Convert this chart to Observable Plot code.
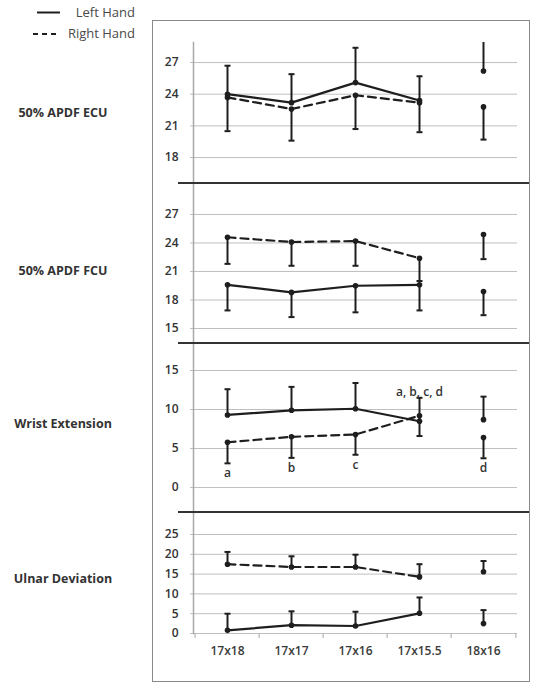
<!DOCTYPE html>
<html><head><meta charset="utf-8">
<script src="https://cdn.jsdelivr.net/npm/d3@7"></script>
<script src="https://cdn.jsdelivr.net/npm/@observablehq/plot@0.6"></script>
<style>
body{margin:0;background:#fff;}
#root{position:relative;width:534px;height:683px;overflow:hidden;font-family:"Open Sans",sans-serif;background:#fff;}
.abs{position:absolute;}
.rowlab{position:absolute;font-weight:700;font-size:12.5px;color:#333;white-space:nowrap;transform:translate(-50%,-50%);}
.leg{position:absolute;font-size:13px;font-weight:500;color:#4a4a4a;white-space:nowrap;transform:translate(-100%,-50%);}
</style></head><body><div id="root"></div>
<script>
// ---------------- data ----------------
const categories = ["17x18", "17x17", "17x16", "17x15.5", "18x16"];
const connected = [true, true, true, true, false];
const panelNames = ["50% APDF ECU", "50% APDF FCU", "Wrist Extension", "Ulnar Deviation"];
const legendNames = ["Left Hand", "Right Hand"];

// 50% APDF ECU
const ecuLeft = [24.0, 23.2, 25.1, 23.4, 26.2];
const ecuLeftSD = [2.7, 2.7, 3.3, 2.3, 3.0];
const ecuRight = [23.7, 22.6, 23.9, 23.2, 22.8];
const ecuRightSD = [3.2, 3.0, 3.2, 2.8, 3.1];
const ecuTicks = [18, 21, 24, 27];

// 50% APDF FCU
const fcuLeft = [19.6, 18.8, 19.5, 19.6, 18.9];
const fcuLeftSD = [2.7, 2.6, 2.8, 2.7, 2.5];
const fcuRight = [24.6, 24.1, 24.2, 22.4, 24.9];
const fcuRightSD = [2.8, 2.5, 2.6, 2.4, 2.6];
const fcuTicks = [15, 18, 21, 24, 27];

// Wrist Extension
const wristLeft = [9.3, 9.9, 10.1, 8.5, 8.7];
const wristLeftSD = [3.3, 3.0, 3.3, 3.0, 2.95];
const wristRight = [5.8, 6.5, 6.8, 9.2, 6.4];
const wristRightSD = [2.7, 2.7, 2.6, 2.6, 2.65];
const wristTicks = [0, 5, 10, 15];
const wristLetters = ["a", "b", "c", "a, b, c, d", "d"];
const wristLetterSide = ["below", "below", "below", "above", "below"];

// Ulnar Deviation
const ulnarLeft = [0.8, 2.1, 1.9, 5.1, 2.5];
const ulnarLeftSD = [4.2, 3.5, 3.6, 4.0, 3.4];
const ulnarRight = [17.5, 16.8, 16.8, 14.3, 15.6];
const ulnarRightSD = [3.1, 2.7, 3.1, 3.2, 2.7];
const ulnarTicks = [0, 5, 10, 15, 20, 25];

// direction of the one-sided SD bars (+1 up, -1 down) for [left, right]
const ecuDir = [1, -1], fcuDir = [-1, -1], wristDir = [1, -1], ulnarDir = [1, 1];

// ---------------- layout ----------------
const W = 534, axisLeft = 193, plotRight = 517;
const panelTop = [42, 183, 343, 512];
const panelBottom = [183, 343, 512, 633];
const yDomains = [[15.54, 28.9], [13.42, 30.26], [-3.2, 18.46], [0, 30.56]];
const rowLabelY = [112, 270, 423, 578];
const INK = "#1e1e1e", GRID = "#bfbfbf";

const panels = [
  {left: ecuLeft, leftSD: ecuLeftSD, right: ecuRight, rightSD: ecuRightSD, dir: ecuDir, ticks: ecuTicks},
  {left: fcuLeft, leftSD: fcuLeftSD, right: fcuRight, rightSD: fcuRightSD, dir: fcuDir, ticks: fcuTicks},
  {left: wristLeft, leftSD: wristLeftSD, right: wristRight, rightSD: wristRightSD, dir: wristDir, ticks: wristTicks},
  {left: ulnarLeft, leftSD: ulnarLeftSD, right: ulnarRight, rightSD: ulnarRightSD, dir: ulnarDir, ticks: ulnarTicks}
];

const capSymbol = {draw(ctx, size) { const r = Math.sqrt(size / Math.PI); ctx.moveTo(-r, 0); ctx.lineTo(r, 0); }};
const root = document.getElementById("root");

panels.forEach((p, k) => {
  const rows = [];
  categories.forEach((c, i) => {
    rows.push({cat: c, hand: "Left", v: p.left[i], end: p.left[i] + p.dir[0] * p.leftSD[i], con: connected[i]});
    rows.push({cat: c, hand: "Right", v: p.right[i], end: p.right[i] + p.dir[1] * p.rightSD[i], con: connected[i]});
  });
  const isLast = k === panels.length - 1;
  const mb = isLast ? 32 : 0;
  const h = panelBottom[k] - panelTop[k] + mb;
  const bw = (plotRight - axisLeft) / categories.length;
  const marks = [
    Plot.gridY({ticks: p.ticks, stroke: GRID, strokeOpacity: 1, strokeWidth: 1}),
    Plot.axisY({ticks: p.ticks, tickSize: 3, tickPadding: 12, stroke: GRID, fill: "#333", label: null}),
    Plot.frame({anchor: "left", stroke: "#a8a8a8", strokeWidth: 1.5}),
    Plot.line(rows.filter(d => d.con && d.hand === "Left"), {x: "cat", y: "v", stroke: INK, strokeWidth: 2.2}),
    Plot.line(rows.filter(d => d.con && d.hand === "Right"), {x: "cat", y: "v", stroke: INK, strokeWidth: 2.2, strokeDasharray: "8,5"}),
    Plot.ruleX(rows, {x: "cat", y1: "v", y2: "end", stroke: INK, strokeWidth: 2, clip: true}),
    Plot.dot(rows, {x: "cat", y: "end", symbol: capSymbol, r: 3, stroke: INK, strokeWidth: 2, fill: "none", clip: true}),
    Plot.dot(rows, {x: "cat", y: "v", r: 2.8, fill: INK})
  ];
  if (k === 2) {
    const letters = categories.map((c, i) => {
      const ends = rows.filter(d => d.cat === c).map(d => d.end);
      const below = wristLetterSide[i] === "below";
      return {cat: c, t: wristLetters[i], y: below ? d3.min(ends) : d3.max(ends), below};
    });
    marks.push(Plot.text(letters.filter(d => d.below), {x: "cat", y: "y", text: "t", dy: 10, fill: "#333"}));
    marks.push(Plot.text(letters.filter(d => !d.below), {x: "cat", y: "y", text: "t", dy: -6, fill: "#333"}));
  }
  if (isLast) {
    marks.push(Plot.axisX({ticks: categories, tickSize: 5, tickFormat: () => "", stroke: "#a8a8a8", dx: -bw / 2, label: null}));
    marks.push(Plot.axisX({ticks: categories.slice(-1), tickSize: 5, tickFormat: () => "", stroke: "#a8a8a8", dx: bw / 2, label: null}));
    marks.push(Plot.axisX({ticks: categories, tickSize: 0, tickPadding: 13, fill: "#3a3a3a", label: null}));
  }
  const chart = Plot.plot({
    width: W, height: h,
    marginLeft: axisLeft, marginRight: W - plotRight, marginTop: 0, marginBottom: mb,
    x: {type: "band", domain: categories, padding: 0, axis: isLast ? undefined : null},
    y: {domain: yDomains[k]},
    style: {fontFamily: "'Open Sans', sans-serif", fontSize: "12px", fontWeight: "600", color: "#333", background: "transparent", overflow: "visible"},
    marks
  });
  chart.style.position = "absolute";
  chart.style.left = "0px";
  chart.style.top = panelTop[k] + "px";
  root.appendChild(chart);

  const lab = document.createElement("div");
  lab.className = "rowlab";
  lab.textContent = panelNames[k];
  lab.style.left = "63px";
  lab.style.top = rowLabelY[k] + "px";
  root.appendChild(lab);
});

// separators between stacked panels
panelBottom.slice(0, 3).forEach(y => {
  const s = document.createElement("div");
  s.className = "abs";
  Object.assign(s.style, {left: "178px", top: (y - 1) + "px", width: "352px", height: "2px", background: "#333"});
  root.appendChild(s);
});

// outer frame
const fr = document.createElement("div");
fr.className = "abs";
Object.assign(fr.style, {left: "152px", top: "20px", width: "378px", height: "662px", border: "1.5px solid #8a8a8a", boxSizing: "border-box"});
root.appendChild(fr);

// legend
const legSvg = d3.select(root).append("svg").attr("class", "abs").attr("width", 70).attr("height", 45).style("left", "0px").style("top", "0px");
legSvg.append("line").attr("x1", 37).attr("x2", 60).attr("y1", 12.5).attr("y2", 12.5).attr("stroke", INK).attr("stroke-width", 2);
legSvg.append("line").attr("x1", 33).attr("x2", 60).attr("y1", 34).attr("y2", 34).attr("stroke", INK).attr("stroke-width", 2).attr("stroke-dasharray", "5,4");
[[12, 0], [33, 1]].forEach(([y, i]) => {
  const t = document.createElement("div");
  t.className = "leg";
  t.textContent = legendNames[i];
  t.style.left = "135px";
  t.style.top = y + "px";
  root.appendChild(t);
});
</script></body></html>
